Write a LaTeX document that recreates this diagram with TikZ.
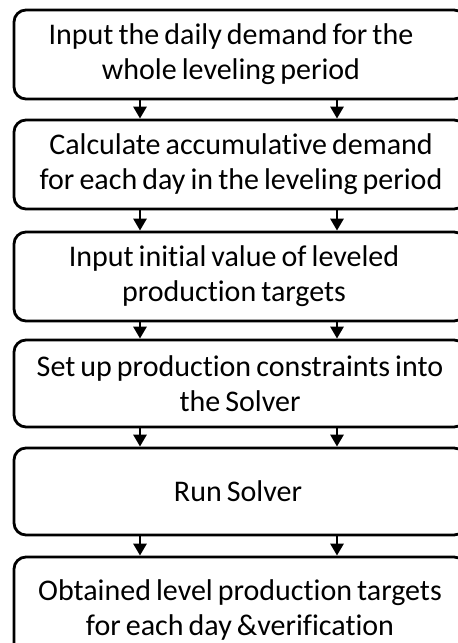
\documentclass[tikz,border=0pt]{standalone}
\usepackage{fontspec}
\setmainfont[Ligatures=NoCommon, WordSpace=0.75]{Carlito}
\usetikzlibrary{arrows.meta}
\begin{document}
\begin{tikzpicture}[x=1pt,y=-1pt,
  stepbox/.style={draw=black, line width=2.8pt, rounded corners=12pt,
    minimum width=452pt, inner sep=0pt},
  steptext/.style={align=center, inner sep=0pt,
    font=\fontsize{30}{35}\selectfont},
  flow/.style={line width=2.8pt, -{Triangle[length=12pt,width=13pt]}}]
  \useasboundingbox (0,0) rectangle (458,643);
  % step frames
  \node[stepbox, minimum height=89pt]  (b1) at (240,54.5)  {};
  \node[stepbox, minimum height=89pt]  (b2) at (240,164.5) {};
  \node[stepbox, minimum height=89pt]  (b3) at (240,276.5) {};
  \node[stepbox, minimum height=87pt]  (b4) at (240,383.5) {};
  \node[stepbox, minimum height=87pt]  (b5) at (240,491.5) {};
  \node[stepbox, minimum height=105pt] (b6) at (240,609.5) {};
  % step labels
  \node[steptext] (t1) at ([xshift=-9pt]b1.center)
    {Input the daily demand for the\\whole leveling period};
  \node[steptext] (t2) at ([xshift=1pt]b2.center)
    {Calculate accumulative demand\\for each day in the leveling period};
  \node[steptext] (t3) at ([xshift=-6pt]b3.center)
    {Input initial value of leveled\\production targets};
  \node[steptext] (t4) at (b4.center)
    {Set up production constraints into\\the Solver};
  \node[steptext] (t5) at ([xshift=-2pt]b5.center)
    {Run Solver};
  \node[steptext] (t6) at (b6.center)
    {Obtained level production targets\\for each day \&verification};
  \foreach \a/\b in {b1/b2,b2/b3,b3/b4,b4/b5,b5/b6}{
    \draw[flow] ([xshift=-100pt]\a.south) -- ([xshift=-100pt]\b.north);
    \draw[flow] ([xshift=97pt]\a.south) -- ([xshift=97pt]\b.north);
  }
\end{tikzpicture}
\end{document}
